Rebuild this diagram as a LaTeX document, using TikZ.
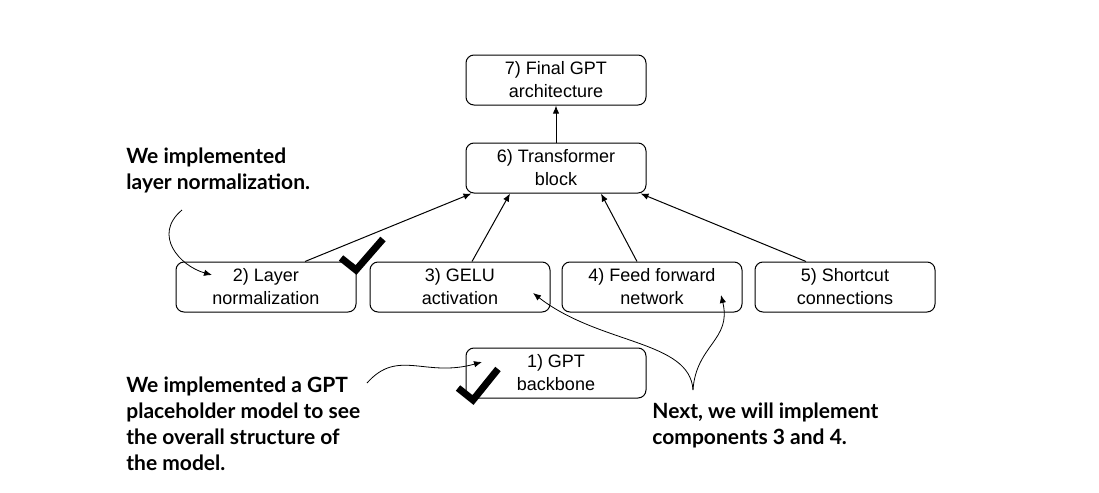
\documentclass[tikz,border=0pt]{standalone}
\usepackage{fontspec}
\setmainfont{Liberation Sans}
\newfontfamily\notefont{Lato}
\usetikzlibrary{arrows.meta}

\tikzset{
  stage/.style={draw, rounded corners=4pt, line width=0.5pt, minimum width=90pt,
    minimum height=25pt, inner sep=0pt, align=center,
    font=\fontsize{9}{11.5}\selectfont},
  note/.style={anchor=north west, inner sep=0pt, align=left,
    font=\notefont\bfseries\fontsize{10.5}{13}\selectfont},
  link/.style={-{Latex[length=4pt,width=3.2pt]}, line width=0.5pt},
  hint/.style={-{Latex[length=4pt,width=3.2pt]}, line width=0.4pt},
  tick/.style={line width=3.5pt},
}

\begin{document}
\begin{tikzpicture}[x=0.5pt,y=-0.5pt]
\useasboundingbox (0,0) rectangle (1099,493);

% the seven stages
\node[stage] (final) at (556,80) {7) Final GPT\\architecture};
\node[stage] (block) at (556,168) {6) Transformer\\block};
\node[stage] (norm) at (266,287) {2) Layer\\normalization};
\node[stage] (gelu) at (460,287) {3) GELU\\activation};
\node[stage] (ffn) at (652,287) {4) Feed forward\\network};
\node[stage] (short) at (845,287) {5) Shortcut\\connections};
\node[stage] (backbone) at (556,373) {1) GPT\\backbone};

\draw[link] (block) -- (final);
\draw[link] ([xshift=19.5pt]norm.north) -- ([xshift=3pt]block.south west);
\draw[link] ([xshift=6pt]gelu.north) -- ([xshift=-23pt]block.south);
\draw[link] ([xshift=-7.5pt]ffn.north) -- ([xshift=22.5pt]block.south);
\draw[link] ([xshift=-19.5pt]short.north) -- ([xshift=-3pt]block.south east);

% done marks
\draw[tick] (341,258) -- (356,270) -- (383,239);
\draw[tick] (458,388) -- (473,400) -- (498,369);

% notes
\node[note] (normnote) at (126,147) {We implemented\\layer normalization.};
\node[note] (gptnote) at (126,376) {We implemented a GPT\\placeholder model to see\\the overall structure of\\the model.};
\node[note] (nextnote) at (652,402) {Next, we will implement\\components 3 and 4.};

\coordinate (normtail) at (182,210);
\coordinate (normhead) at (212,275);
\draw[hint] (normtail) .. controls (152,235) and (180,266) .. (normhead);

\coordinate (gpttail) at (367,383);
\coordinate (gpthead) at (482,362);
\draw[hint] (gpttail) .. controls (398,348) and (425,378) .. (gpthead);

\coordinate (nexttail) at (693,390);
\coordinate (geluhead) at (533,293);
\coordinate (ffnhead) at (721,295);
\draw[hint] (nexttail) .. controls (690,340) and (600,345) .. (geluhead);
\draw[hint] (nexttail) .. controls (696,345) and (732,340) .. (ffnhead);
\end{tikzpicture}
\end{document}
